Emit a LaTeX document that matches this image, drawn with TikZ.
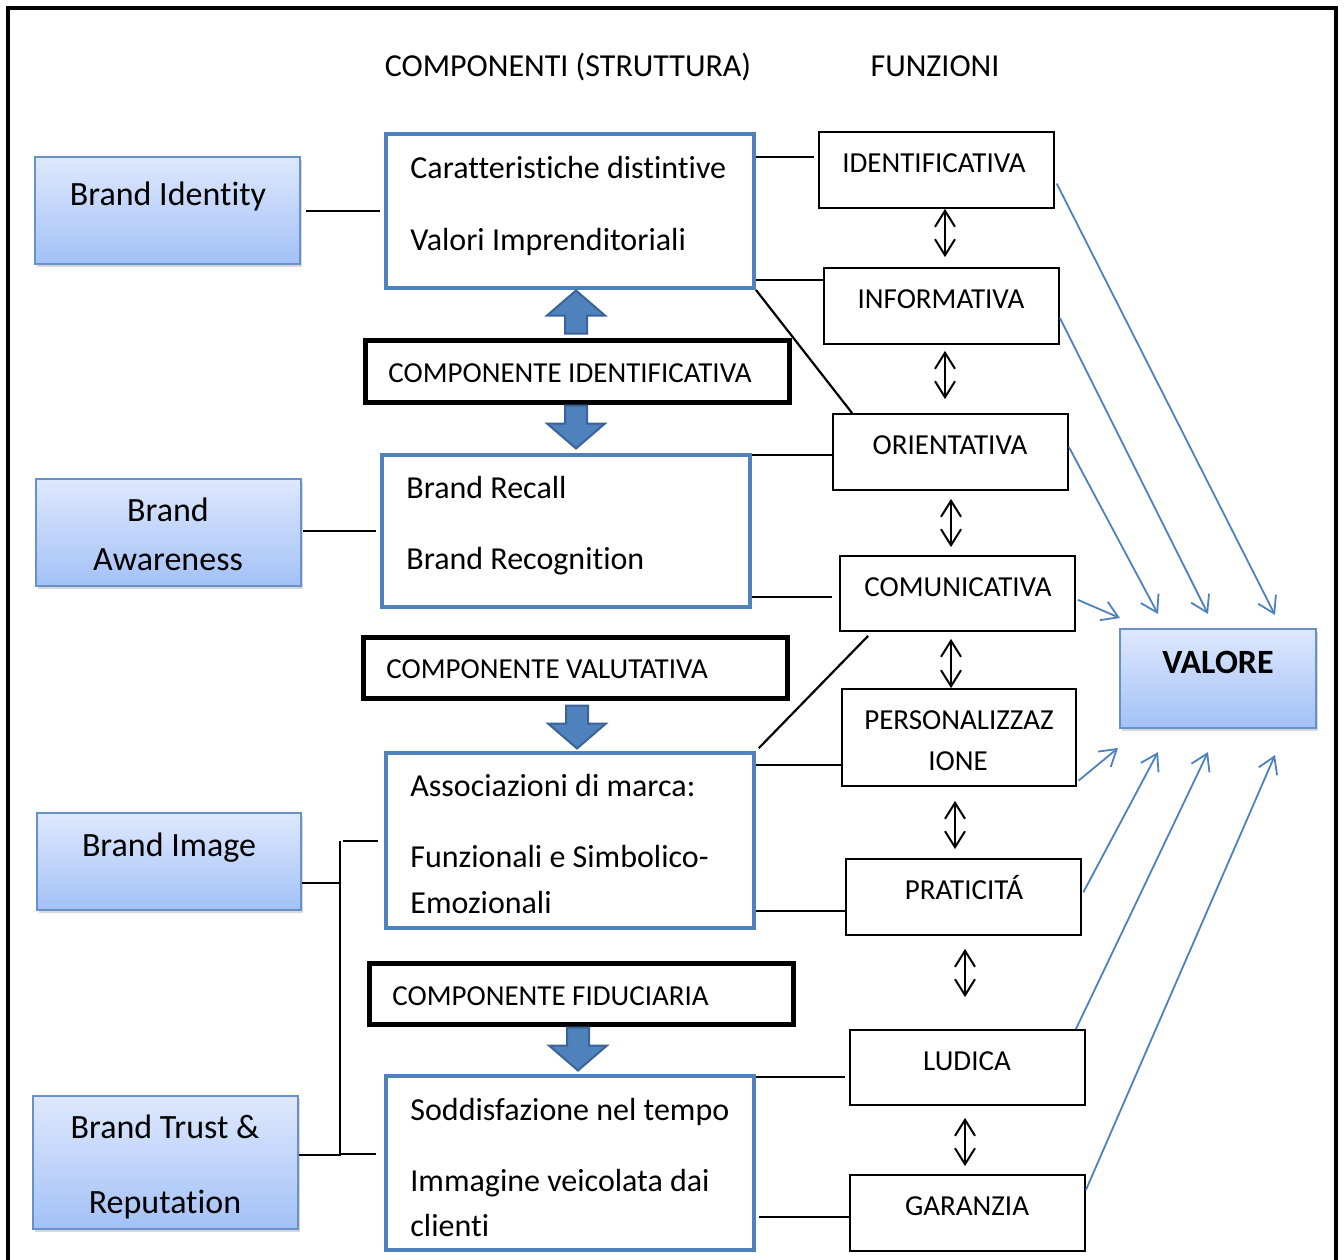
\documentclass[tikz,border=0pt]{standalone}
\usepackage{fontspec}
\setmainfont{Carlito}[Ligatures={NoCommon}]
\usetikzlibrary{fit,shadows,arrows.meta,calc}

\definecolor{ofblue}{HTML}{4F81BD}
\definecolor{ofdark}{HTML}{3A6396}
\definecolor{gtop}{HTML}{DEE8FD}
\definecolor{gbot}{HTML}{A3C1F7}
\definecolor{gborder}{HTML}{6890C9}

\tikzset{
  brandbox/.style={draw=gborder, line width=1pt, top color=gtop, bottom color=gbot,
    inner sep=0pt, drop shadow={opacity=0.3, shadow xshift=1pt, shadow yshift=-1.5pt}},
  structbox/.style={draw=ofblue, line width=2pt, fill=white, inner sep=0pt},
  compbox/.style={draw=black, line width=2.5pt, inner sep=0pt},
  funcbox/.style={draw=black, line width=0.9pt, inner sep=0pt},
  txt/.style={inner sep=0pt, text height=1.5ex, text depth=.25ex, yshift=-2.5pt},
  brandtxt/.style={txt, font=\fontsize{17}{20}\selectfont},
  valtxt/.style={txt, font=\bfseries\fontsize{17}{20}\selectfont},
  structtxt/.style={txt, anchor=west, font=\fontsize{16}{19}\selectfont},
  comptxt/.style={txt, anchor=west, font=\fontsize{14.5}{17}\selectfont},
  functxt/.style={txt, font=\fontsize{14.5}{17}\selectfont},
  headtxt/.style={txt, font=\fontsize{16}{19}\selectfont},
  link/.style={draw=black, line width=1.1pt},
  dbl/.style={draw=black, line width=1pt,
    {Straight Barb[length=8pt,width=10pt]}-{Straight Barb[length=8pt,width=10pt]}},
  valarrow/.style={draw=ofblue, line width=0.9pt, -{Straight Barb[length=8pt,width=10pt]}},
  blockarrow/.style={fill=ofblue, draw=ofdark, line width=1pt, line join=miter},
  pics/blockup/.style={code={
    \draw[blockarrow] (0,-21.5) -- (29,3.5) -- (11,3.5) -- (11,21.5) -- (-11,21.5)
      -- (-11,3.5) -- (-29,3.5) -- cycle;}},
  pics/blockdown/.style={code={
    \draw[blockarrow] (0,21.5) -- (29,-3.5) -- (11,-3.5) -- (11,-21.5) -- (-11,-21.5)
      -- (-11,-3.5) -- (-29,-3.5) -- cycle;}},
}

\begin{document}
\begin{tikzpicture}[x=0.5pt,y=-0.5pt]
\useasboundingbox (0,0) rectangle (1344,1259);
\fill[white] (0,0) rectangle (1344,1259);
% outer frame
\draw[line width=2pt] (8,1300) -- (8,8) -- (1336,8) -- (1336,1300);

% column headings
\node[headtxt] (hcomp) at (568,66) {COMPONENTI (STRUTTURA)};
\node[headtxt] (hfunz) at (935,66) {FUNZIONI};

% brand dimensions (left column)
\node[brandbox, fit={(35,157)(300,264)}] (bi) {};
\node[brandbox, fit={(36,479)(301,586)}] (ba) {};
\node[brandbox, fit={(37,813)(301,910)}] (bim) {};
\node[brandbox, fit={(33,1096)(298,1229)}] (bt) {};
\node[brandtxt] (tbi) at (168,195) {Brand Identity};
\node[brandtxt] (tba1) at (168,511) {Brand};
\node[brandtxt] (tba2) at (168,560) {Awareness};
\node[brandtxt] (tbim) at (169,846) {Brand Image};
\node[brandtxt] (tbt1) at (165,1128) {Brand Trust \&};
\node[brandtxt] (tbt2) at (165,1203) {Reputation};

% value box
\node[brandbox, fit={(1120,629)(1316,728)}] (val) {};
\node[valtxt] (tval) at (1218,663) {VALORE};

% structural components
\node[structbox, fit={(386,134)(754,288)}] (s1) {};
\node[structbox, fit={(382,455)(750,607)}] (s2) {};
\node[structbox, fit={(386,753)(754,928)}] (s3) {};
\node[structbox, fit={(386,1076)(754,1250)}] (s4) {};
\node[structtxt] (ts1a) at (410,168) {Caratteristiche distintive};
\node[structtxt] (ts1b) at (410,240) {Valori Imprenditoriali};
\node[structtxt] (ts2a) at (406,488) {Brand Recall};
\node[structtxt] (ts2b) at (406,559) {Brand Recognition};
\node[structtxt] (ts3a) at (410,786) {Associazioni di marca:};
\node[structtxt] (ts3b) at (410,857) {Funzionali e Simbolico-};
\node[structtxt] (ts3c) at (410,903) {Emozionali};
\node[structtxt] (ts4a) at (410,1110) {Soddisfazione nel tempo};
\node[structtxt] (ts4b) at (410,1181) {Immagine veicolata dai};
\node[structtxt] (ts4c) at (410,1226) {clienti};

% component labels
\node[compbox, fit={(365,340)(789,402)}] (c1) {};
\node[compbox, fit={(363,637)(787,698)}] (c2) {};
\node[compbox, fit={(369,963)(793,1024)}] (c3) {};
\node[comptxt] (tc1) at (388,372) {COMPONENTE IDENTIFICATIVA};
\node[comptxt] (tc2) at (386,668) {COMPONENTE VALUTATIVA};
\node[comptxt] (tc3) at (392,995) {COMPONENTE FIDUCIARIA};

% block arrows
\pic at (576,312) {blockup};
\pic at (576,427) {blockdown};
\pic at (577,727) {blockdown};
\pic at (578,1049) {blockdown};

% functions
\node[funcbox, fit={(819,132)(1054,208)}] (idf) {};
\node[funcbox, fit={(824,268)(1059,344)}] (inf) {};
\node[funcbox, fit={(833,414)(1068,490)}] (ori) {};
\node[funcbox, fit={(840,556)(1075,631)}] (com) {};
\node[funcbox, fit={(842,689)(1076,786)}] (per) {};
\node[funcbox, fit={(846,859)(1081,935)}] (pra) {};
\node[funcbox, fit={(850,1030)(1085,1105)}] (lud) {};
\node[funcbox, fit={(850,1175)(1085,1251)}] (gar) {};
\node[functxt] (tidf) at (934,162) {IDENTIFICATIVA};
\node[functxt] (tinf) at (941,298) {INFORMATIVA};
\node[functxt] (tori) at (950,444) {ORIENTATIVA};
\node[functxt] (tcom) at (958,586) {COMUNICATIVA};
\node[functxt] (tper1) at (959,719) {PERSONALIZZAZ};
\node[functxt] (tper2) at (958,760) {IONE};
\node[functxt] (tpra) at (964,889) {PRATICITÁ};
\node[functxt] (tlud) at (967,1060) {LUDICA};
\node[functxt] (tgar) at (967,1205) {GARANZIA};

% links between functions
\draw[dbl, shorten >=5pt] (idf.south -| 945,0) -- (inf.north -| 945,0);
\draw[dbl, shorten <=3pt, shorten >=7pt] (inf.south -| 945,0) -- (ori.north -| 945,0);
\draw[dbl, shorten <=4pt, shorten >=4pt] (ori.south -| 951,0) -- (com.north -| 951,0);
\draw[dbl, shorten <=3.5pt] (com.south -| 951,0) -- (per.north -| 951,0);
\draw[dbl, shorten <=7pt, shorten >=4.5pt] (per.south -| 955,0) -- (pra.north -| 955,0);
\draw[dbl, shorten <=6.5pt, shorten >=16pt] (pra.south -| 965,0) -- (lud.north -| 965,0);
\draw[dbl, shorten <=6pt, shorten >=4pt] (lud.south -| 965,0) -- (gar.north -| 965,0);

% brand dimensions to structure
\draw[link, shorten <=2.5pt, shorten >=2pt] (bi.east |- 0,211) -- (s1.west |- 0,211);
\draw[link, shorten <=0.5pt, shorten >=2pt] (ba.east |- 0,531) -- (s2.west |- 0,531);
\coordinate (bj) at (340,1000);
\draw[link] (bim.east |- 0,883) -- (bj |- 0,883);
\draw[link] (bt.east |- 0,1155) -- (bj |- 0,1155) -- (bj |- 0,841);
\draw[link, shorten <=1.5pt, shorten >=3pt] (bj |- 0,841) -- (s3.west |- 0,841);
\draw[link, shorten >=4pt] (bj |- 0,1154) -- (s4.west |- 0,1154);

% structure to functions
\draw[link, shorten >=2pt] (s1.east |- 0,157) -- (idf.west |- 0,157);
\draw[link] (s1.east |- 0,280) -- (inf.west |- 0,280);
\draw[link] (s1.south east) -- ($(ori.north west)+(20,0)$);
\draw[link] (s2.east |- 0,455) -- (ori.west |- 0,455);
\draw[link, shorten >=3.5pt] (s2.east |- 0,597) -- (com.west |- 0,597);
\draw[link, shorten <=2pt] (s3.north east) -- ($(com.south west)+(29,4)$);
\draw[link] (s3.east |- 0,765) -- (per.west |- 0,765);
\draw[link] (s3.east |- 0,911) -- (pra.west |- 0,911);
\draw[link, shorten >=2pt] (s4.east |- 0,1077) -- (lud.west |- 0,1077);
\draw[link, shorten <=1.5pt] (s4.east |- 0,1217) -- (gar.west |- 0,1217);

% functions to value
\coordinate (v1) at (1275,615);
\coordinate (v2) at (1208,614);
\coordinate (v3) at (1158,614);
\coordinate (v4) at (1120,618);
\coordinate (v5) at (1118,748);
\coordinate (v6) at (1158,752);
\coordinate (v7) at (1208,752);
\coordinate (v8) at (1275,755);
\draw[valarrow, shorten <=2pt] (idf.east |- 0,180) -- (v1);
\draw[valarrow] (inf.east |- 0,318) -- (v2);
\draw[valarrow] (ori.east |- 0,447) -- (v3);
\draw[valarrow, shorten <=1pt] (com.east |- 0,599) -- (v4);
\draw[valarrow, shorten <=1pt] (per.east |- 0,782) -- (v5);
\draw[valarrow, shorten <=1.5pt] (pra.east |- 0,895) -- (v6);
\draw[valarrow] ($(lud.north east)+(-10,0)$) -- (v7);
\draw[valarrow] (gar.east |- 0,1190) -- (v8);
\end{tikzpicture}
\end{document}
